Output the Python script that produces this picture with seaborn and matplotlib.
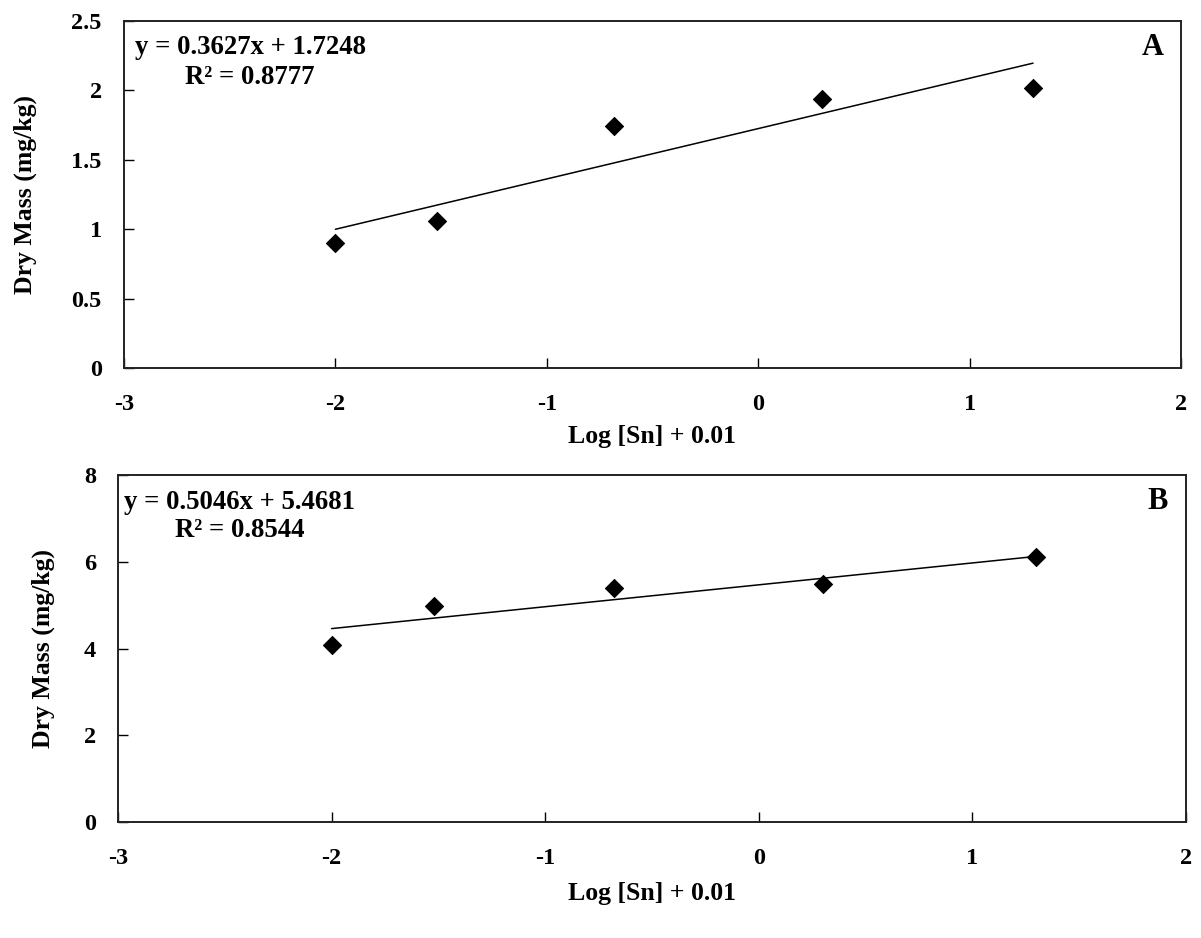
import numpy as np
import pandas as pd
import matplotlib
matplotlib.use("Agg")
import matplotlib.pyplot as plt
import seaborn as sns

# ---- data ----
log_sn = [-2.0, -1.52, -0.68, 0.30, 1.30]
dry_mass_a = [0.90, 1.06, 1.74, 1.94, 2.02]
dry_mass_b = [4.08, 4.98, 5.40, 5.48, 6.10]
fit_a = (0.3627, 1.7248)
fit_b = (0.5046, 5.4681)
eq_a = ["y = 0.3627x + 1.7248", "R² = 0.8777"]
eq_b = ["y = 0.5046x + 5.4681", "R² = 0.8544"]
panel_labels = ["A", "B"]
x_ticks = [-3, -2, -1, 0, 1, 2]
y_ticks_a = [0, 0.5, 1, 1.5, 2, 2.5]
y_tick_labels_a = ["0", "0.5", "1", "1.5", "2", "2.5"]
y_ticks_b = [0, 2, 4, 6, 8]
y_tick_labels_b = ["0", "2", "4", "6", "8"]
x_label = "Log [Sn] + 0.01"
y_label = "Dry Mass (mg/kg)"

sns.set_theme(style="white")
plt.rcParams['font.family'] = ['Liberation Serif', 'DejaVu Serif']
plt.rcParams['font.weight'] = 'bold'
plt.rcParams['text.color'] = 'black'
plt.rcParams['axes.labelcolor'] = 'black'
plt.rcParams['xtick.color'] = 'black'
plt.rcParams['ytick.color'] = 'black'

W, H = 1201, 938
fig = plt.figure(figsize=(W / 100, H / 100), dpi=100)

def px_axes(l, t, r, b):
    return fig.add_axes([l / W, 1 - b / H, (r - l) / W, (b - t) / H])

ax_a = px_axes(124, 21, 1181, 368)
ax_b = px_axes(118, 475, 1186, 822)

TICK_FS = 17.5
LABEL_FS = 18.5
EQ_FS = 19.3

panels = [
    (ax_a, dry_mass_a, fit_a, eq_a, panel_labels[0], y_ticks_a, (0, 2.5), y_tick_labels_a),
    (ax_b, dry_mass_b, fit_b, eq_b, panel_labels[1], y_ticks_b, (0, 8), y_tick_labels_b),
]

for ax, ys, fit, eq, lab, yt, ylim, ytl in panels:
    df = pd.DataFrame({"x": log_sn, "y": ys})
    xs = np.array([min(log_sn), max(log_sn)])
    line = pd.DataFrame({"x": xs, "y": fit[0] * xs + fit[1]})
    sns.lineplot(data=line, x="x", y="y", ax=ax, color="black", linewidth=1.1)
    sns.scatterplot(data=df, x="x", y="y", ax=ax, marker="D", s=85,
                    color="black", edgecolor="black", zorder=5)
    ax.set_xlim(-3, 2)
    ax.set_ylim(*ylim)
    ax.set_xticks(x_ticks)
    ax.set_xticklabels([str(t) for t in x_ticks], fontsize=TICK_FS, fontweight="bold")
    ax.set_yticks(yt)
    ax.set_yticklabels(ytl, fontsize=TICK_FS, fontweight="bold")
    ax.tick_params(axis="x", direction="in", length=7, width=1, bottom=True, pad=19)
    ax.tick_params(axis="y", direction="in", length=7, width=1, left=True, pad=16)
    for sp in ax.spines.values():
        sp.set_color("#222222")
        sp.set_linewidth(1.4)
        sp.set_visible(True)
    ax.set_xlabel(x_label, fontsize=LABEL_FS, fontweight="bold")
    ax.set_ylabel(y_label, fontsize=LABEL_FS, fontweight="bold")
    ax.text(0.9735, 0.925, lab, transform=ax.transAxes, fontsize=22,
            fontweight="bold", ha="center", va="center")

# label positions (axes coordinates)
ax_a.xaxis.set_label_coords(0.5, (368 - 437) / 347)
ax_b.xaxis.set_label_coords(0.5, (822 - 893) / 347)
ax_a.yaxis.set_label_coords((25 - 124) / 1057, 0.5)
ax_b.yaxis.set_label_coords((43 - 118) / 1068, 0.5)
for ax in (ax_a, ax_b):
    ax.xaxis.label.set_va("center")
    ax.yaxis.label.set_va("center")

def put(ax, l, t, r, b, px, py, s):
    ax.text((px - l) / (r - l), (b - py) / (b - t), s, transform=ax.transAxes,
            fontsize=EQ_FS, fontweight="bold", va="center", ha="left")

put(ax_a, 124, 21, 1181, 368, 135, 47, eq_a[0])
put(ax_a, 124, 21, 1181, 368, 185, 77, eq_a[1])
put(ax_b, 118, 475, 1186, 822, 124, 502, eq_b[0])
put(ax_b, 118, 475, 1186, 822, 175, 530, eq_b[1])

fig.savefig("out.png", dpi=100, facecolor="white")
